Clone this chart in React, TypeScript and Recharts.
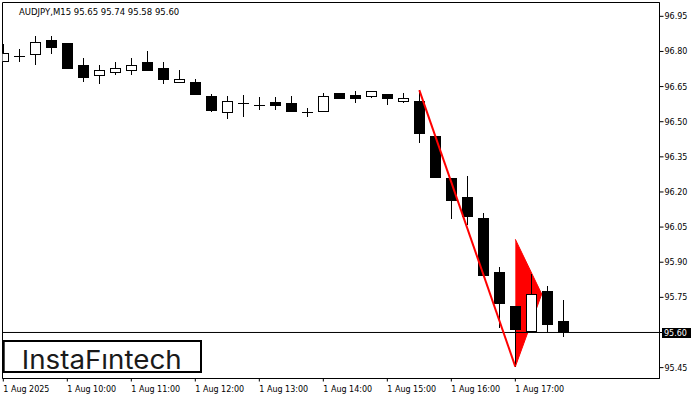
import {
  Area,
  Bar,
  ComposedChart,
  Line,
  ReferenceArea,
  ReferenceLine,
  XAxis,
  YAxis,
} from "recharts";

// AUDJPY M15, 1 Aug 2025 09:00 .. 17:45 (one entry per candle)
const opens = [
  96.759, 96.78, 96.79, 96.851, 96.834, 96.744, 96.7, 96.711, 96.722, 96.753,
  96.73, 96.67, 96.671, 96.61, 96.54, 96.58, 96.572, 96.583, 96.581, 96.54,
  96.547, 96.621, 96.614, 96.61, 96.62, 96.589, 96.59, 96.44, 96.26, 96.179,
  96.089, 95.857, 95.714, 95.607, 95.779, 95.65,
];
const highs = [
  96.833, 96.812, 96.864, 96.864, 96.836, 96.773, 96.743, 96.753, 96.774, 96.804,
  96.753, 96.722, 96.681, 96.619, 96.611, 96.614, 96.607, 96.604, 96.611, 96.559,
  96.621, 96.621, 96.633, 96.632, 96.62, 96.621, 96.635, 96.44, 96.26, 96.269,
  96.11, 95.879, 95.714, 95.85, 95.797, 95.74,
];
const lows = [
  96.755, 96.757, 96.743, 96.79, 96.726, 96.668, 96.66, 96.698, 96.698, 96.72,
  96.66, 96.67, 96.617, 96.54, 96.512, 96.518, 96.55, 96.55, 96.54, 96.518,
  96.54, 96.602, 96.578, 96.6, 96.57, 96.578, 96.407, 96.266, 96.086, 96.06,
  95.846, 95.621, 95.454, 95.607, 95.604, 95.58,
];
const closes = [
  96.793, 96.78, 96.842, 96.818, 96.728, 96.69, 96.722, 96.73, 96.743, 96.72,
  96.681, 96.683, 96.617, 96.55, 96.59, 96.58, 96.572, 96.57, 96.547, 96.54,
  96.61, 96.602, 96.602, 96.632, 96.6, 96.603, 96.45, 96.266, 96.167, 96.098,
  95.846, 95.726, 95.614, 95.766, 95.636, 95.6,
];

const xTickIndex = [0, 4, 8, 12, 16, 20, 24, 28, 32];
const xTickLabels = [
  "1 Aug 2025",
  "1 Aug 10:00",
  "1 Aug 11:00",
  "1 Aug 12:00",
  "1 Aug 13:00",
  "1 Aug 14:00",
  "1 Aug 15:00",
  "1 Aug 16:00",
  "1 Aug 17:00",
];
const yTicks = [95.45, 95.75, 95.9, 96.05, 96.2, 96.35, 96.5, 96.65, 96.8, 96.95];
const lastPrice = 95.6;

// pattern drawing: the pole and the pennant
const zigzag = [
  { x: 26, y: 96.635 },
  { x: 32, y: 95.454 },
];
const pennant = [
  { x: 32, band: [95.454, 95.998] },
  { x: 33.65, band: [95.764, 95.764] },
];

const X_DOMAIN: [number, number] = [-0.05, 41.01];
const Y_DOMAIN: [number, number] = [95.4035, 97.009];
const FONT = "'DejaVu Sans', sans-serif";

const candles = opens.map((o, i) => ({
  x: i,
  o,
  h: highs[i],
  l: lows[i],
  c: closes[i],
  range: [lows[i], highs[i]],
}));

function Candle(props: any) {
  const { x, y, width, height, payload } = props;
  if (x == null || !payload) return null;
  const top = Math.min(y, y + height);
  const bottom = Math.max(y, y + height);
  const { o, h, l, c } = payload;
  const py = (v: number) => top + ((h - v) / (h - l)) * (bottom - top);
  const left = Math.round(x + width / 2 - 5.5);
  const mid = left + 5.5;
  const yo = Math.round(py(o));
  const yc = Math.round(py(c));
  return (
    <g>
      <line x1={mid} x2={mid} y1={Math.round(top)} y2={Math.round(bottom)} stroke="#000" />
      {yo === yc ? (
        <line x1={left} x2={left + 11} y1={yo + 0.5} y2={yo + 0.5} stroke="#000" />
      ) : c > o ? (
        <rect x={left + 0.5} y={yc + 0.5} width={10} height={yo - yc} fill="#fff" stroke="#000" />
      ) : (
        <rect x={left} y={yo} width={11} height={yc - yo + 1} fill="#000" />
      )}
    </g>
  );
}

function XTick(props: any) {
  const { x, y, payload } = props;
  const label = xTickLabels[xTickIndex.indexOf(payload.value)];
  return (
    <text x={x} y={y + 8} textAnchor="start" fontSize={8} fontFamily={FONT} fill="#000">
      {label}
    </text>
  );
}

function YTick(props: any) {
  const { x, y, payload } = props;
  return (
    <text x={x} y={y + 3} textAnchor="start" fontSize={8} fontFamily={FONT} fill="#000">
      {Number(payload.value).toFixed(2)}
    </text>
  );
}

function PriceTag(props: any) {
  const vb = props.viewBox;
  if (!vb) return null;
  const right = vb.x + vb.width;
  const y = Math.round(vb.y);
  return (
    <g>
      <line x1={right} x2={right + 3} y1={y + 0.5} y2={y + 0.5} stroke="#000" />
      <rect x={right + 2.5} y={y - 4} width={29} height={10} fill="#000" />
      <text x={right + 4.5} y={y + 4} fontSize={8} fontFamily={FONT} fill="#fff">
        {lastPrice.toFixed(2)}
      </text>
    </g>
  );
}

export default function App() {
  return (
    <div style={{ position: "absolute", left: 0, top: 0, width: 700, height: 400, background: "#fff" }}>
      <ComposedChart
        width={700}
        height={400}
        data={candles}
        margin={{ top: 2.5, right: 0.5, bottom: 0.5, left: 2.5 }}
      >
        <XAxis
          type="number"
          dataKey="x"
          domain={X_DOMAIN}
          allowDataOverflow
          ticks={xTickIndex}
          interval={0}
          tick={<XTick />}
          tickSize={3}
          tickLine={{ stroke: "#000" }}
          axisLine={{ stroke: "#000" }}
          height={21}
        />
        <YAxis
          type="number"
          orientation="right"
          domain={Y_DOMAIN}
          allowDataOverflow
          ticks={yTicks}
          interval={0}
          tick={<YTick />}
          tickSize={4}
          tickMargin={1}
          tickLine={{ stroke: "#000" }}
          axisLine={{ stroke: "#000" }}
          width={40}
        />
        <ReferenceArea
          x1={X_DOMAIN[0]}
          x2={X_DOMAIN[1]}
          y1={Y_DOMAIN[0]}
          y2={Y_DOMAIN[1]}
          fill="none"
          stroke="#000"
          ifOverflow="visible"
        />
        <ReferenceLine y={lastPrice} stroke="#000" label={<PriceTag />} />
        <Area
          data={pennant}
          dataKey="band"
          type="linear"
          stroke="#ff0000"
          fill="#ff0000"
          fillOpacity={1}
          dot={false}
          activeDot={false}
          isAnimationActive={false}
        />
        <Bar
          dataKey="range"
          barSize={11}
          shape={<Candle />}
          isAnimationActive={false}
        />
        <Line
          data={zigzag}
          dataKey="y"
          type="linear"
          stroke="#ff0000"
          strokeWidth={2}
          dot={false}
          activeDot={false}
          isAnimationActive={false}
        />
      </ComposedChart>
      <svg
        width={700}
        height={400}
        style={{ position: "absolute", left: 0, top: 0, pointerEvents: "none" }}
      >
        <text x={19} y={14.5} fontSize={8.5} fontFamily={FONT} fill="#000">
          AUDJPY,M15  95.65 95.74 95.58 95.60
        </text>
        <rect x={3.7} y={341} width={197.3} height={31} fill="#fff" stroke="#000" strokeWidth={2} />
        <text
          x={21.7}
          y={368.5}
          fontSize={26}
          fontWeight={400}
          fontFamily="Inter, 'Noto Sans', sans-serif"
          fill="#1a1a1a"
          textLength={160}
          lengthAdjust="spacingAndGlyphs"
        >
          InstaFıntech
        </text>
      </svg>
    </div>
  );
}
